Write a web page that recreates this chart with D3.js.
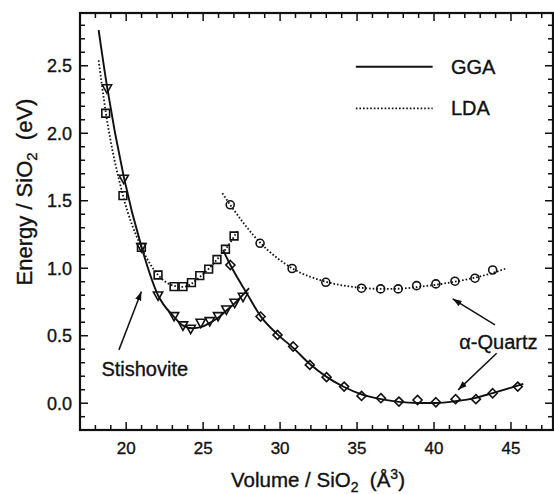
<!DOCTYPE html>
<html><head><meta charset="utf-8">
<script src="https://cdn.jsdelivr.net/npm/d3@7/dist/d3.min.js"></script>
<style>
html,body{margin:0;padding:0;background:#fff;}
svg{display:block;font-family:"Liberation Sans",Arial,Helvetica,sans-serif;}
</style></head>
<body>
<svg id="chart" width="554" height="494"></svg>
<script>
// ---- data (volume Å^3 / SiO2, energy eV / SiO2) ----
const stishGGAPts = [[18.75,2.33],[19.84,1.66],[20.99,1.153],[22.07,0.795],[23.11,0.642],[23.69,0.573],[24.19,0.548],[24.84,0.593],[25.43,0.605],[25.97,0.642],[26.51,0.691],[27.05,0.741],[27.59,0.785]];
const stishLDAPts = [[18.67,2.148],[19.79,1.538],[20.99,1.155],[22.07,0.95],[23.11,0.864],[23.69,0.864],[24.24,0.893],[24.78,0.945],[25.36,0.993],[25.90,1.065],[26.45,1.141],[27.01,1.239]];
const quartzLDAPts = [[26.76,1.47],[28.70,1.185],[30.78,0.998],[32.97,0.896],[35.29,0.852],[36.53,0.847],[37.67,0.847],[38.87,0.871],[40.12,0.884],[41.36,0.904],[42.66,0.926],[43.81,0.987]];
const quartzGGAPts = [[26.77,1.024],[28.73,0.642],[29.83,0.506],[30.85,0.42],[31.93,0.284],[33.02,0.193],[34.16,0.123],[35.29,0.054],[36.55,0.037],[37.72,0.012],[38.93,0.024],[40.12,0.007],[41.40,0.03],[42.72,0.03],[43.81,0.074],[45.44,0.123]];

// fitted curves
const stishGGAFit = [[18.21,2.765],[18.75,2.35],[19.84,1.68],[20.99,1.16],[22.07,0.80],[23.11,0.64],[23.7,0.575],[24.3,0.555],[24.9,0.565],[25.5,0.60],[26.0,0.635],[26.5,0.685],[27.05,0.74],[27.6,0.805],[27.98,0.852]];
const stishLDAFit = [[18.21,2.54],[18.67,2.16],[19.79,1.54],[20.99,1.155],[22.07,0.95],[23.11,0.87],[23.69,0.862],[24.24,0.885],[24.78,0.935],[25.36,0.995],[25.9,1.065],[26.45,1.14],[27.01,1.235],[27.27,1.284]];
const quartzGGAFit = [[26.29,1.136],[26.77,1.024],[27.86,0.81],[28.73,0.645],[29.83,0.51],[30.85,0.41],[31.93,0.29],[33.02,0.195],[34.16,0.12],[35.29,0.065],[36.55,0.03],[37.72,0.01],[38.93,0.002],[40.12,0.002],[41.4,0.015],[42.72,0.04],[43.81,0.075],[45.44,0.13],[45.8,0.143]];
const quartzLDAFit = [[26.25,1.556],[26.76,1.47],[28.7,1.19],[30.78,1.0],[32.97,0.9],[35.29,0.855],[36.53,0.847],[37.67,0.848],[38.87,0.86],[40.12,0.878],[41.36,0.9],[42.66,0.93],[43.81,0.965],[44.72,1.0]];

const xMajorTicks = [20,25,30,35,40,45];
const yMajorTicks = [0.0,0.5,1.0,1.5,2.0,2.5];
const legendLabels = ["GGA","LDA"];
const annotLabels = ["Stishovite","α-Quartz"];

// ---- layout ----
const svg = d3.select("#chart");
const L=80, R=553, T=13, B=430;
const x = d3.scaleLinear().domain([17,47.73]).range([L,R]);
const y = d3.scaleLinear().domain([-0.1985,2.891]).range([B,T]);
const ink = "#111";

// minor ticks
const xMinor = d3.range(18,48,1).filter(v=>v%5!==0);
const yMinor = d3.range(-1,29,1).map(v=>v/10).filter(v=>Math.round(v*10)%5!==0);

const g = svg.append("g").attr("stroke",ink).attr("stroke-width",1.5);
function tickLines(vals,len){
  vals.forEach(v=>{
    g.append("line").attr("x1",x(v)).attr("x2",x(v)).attr("y1",B).attr("y2",B-len);
    g.append("line").attr("x1",x(v)).attr("x2",x(v)).attr("y1",T).attr("y2",T+len);
  });
}
function tickLinesY(vals,len){
  vals.forEach(v=>{
    g.append("line").attr("y1",y(v)).attr("y2",y(v)).attr("x1",L).attr("x2",L+len);
    g.append("line").attr("y1",y(v)).attr("y2",y(v)).attr("x1",R).attr("x2",R-len);
  });
}
tickLines(xMinor,5); tickLines(xMajorTicks,8);
tickLinesY(yMinor,5); tickLinesY(yMajorTicks,8);

svg.append("rect").attr("x",L).attr("y",T).attr("width",R-L).attr("height",B-T)
  .attr("fill","none").attr("stroke",ink).attr("stroke-width",2.2);

const txtStroke = 0.35;
// tick labels
svg.append("g").selectAll("text").data(xMajorTicks).join("text")
  .attr("x",d=>x(d)).attr("y",453.5).attr("text-anchor","middle")
  .attr("font-size",17).attr("fill",ink).attr("stroke",ink).attr("stroke-width",txtStroke).text(d=>d);
svg.append("g").selectAll("text").data(yMajorTicks).join("text")
  .attr("x",72).attr("y",d=>y(d)+6.5).attr("text-anchor","end")
  .attr("font-size",18).attr("fill",ink).attr("stroke",ink).attr("stroke-width",txtStroke).text(d=>d3.format(".1f")(d));

// axis titles
const xt = svg.append("text").attr("x",231).attr("y",487).attr("font-size",20.5).attr("fill",ink).attr("stroke",ink).attr("stroke-width",txtStroke);
xt.append("tspan").text("Volume / SiO");
xt.append("tspan").attr("font-size",14).attr("dy",5).text("2");
xt.append("tspan").attr("dy",-5).text("\u00a0\u00a0(Å");
xt.append("tspan").attr("font-size",14).attr("dy",-8).text("3");
xt.append("tspan").attr("dy",8).text(")");

const yt = svg.append("text").attr("transform","translate(32,192) rotate(-90)")
  .attr("text-anchor","middle").attr("font-size",22).attr("fill",ink).attr("stroke",ink).attr("stroke-width",txtStroke);
yt.append("tspan").text("Energy / SiO");
yt.append("tspan").attr("font-size",15).attr("dy",5).text("2");
yt.append("tspan").attr("dy",-5).text("\u00a0\u00a0(eV)");

// curves
const line = d3.line().x(d=>x(d[0])).y(d=>y(d[1])).curve(d3.curveMonotoneX);
const solid = {stroke:ink,"stroke-width":1.9,fill:"none"};
const dotted = {stroke:ink,"stroke-width":1.8,fill:"none","stroke-dasharray":"1.6,2"};
function drawPath(data,st){
  const p = svg.append("path").attr("d",line(data));
  Object.entries(st).forEach(([k,v])=>p.attr(k,v));
}
drawPath(stishGGAFit,solid);
drawPath(quartzGGAFit,solid);
drawPath(stishLDAFit,dotted);
drawPath(quartzLDAFit,dotted);

// markers
function markers(data,type,size){
  svg.append("g").selectAll("path").data(data).join("path")
    .attr("transform",d=>`translate(${x(d[0])},${y(d[1])})`)
    .attr("d",d3.symbol().type(type).size(size)())
    .attr("fill","none").attr("stroke",ink).attr("stroke-width",1.6);
}
const triDown = {draw(ctx,size){const s=Math.sqrt(size/0.65)/2; ctx.moveTo(-s,-s*0.85); ctx.lineTo(s,-s*0.85); ctx.lineTo(0,s*0.95); ctx.closePath();}};
const diamond = {draw(ctx,size){const s=Math.sqrt(size)/2*1.15; ctx.moveTo(0,-s); ctx.lineTo(s,0); ctx.lineTo(0,s); ctx.lineTo(-s,0); ctx.closePath();}};
markers(stishLDAPts,d3.symbolSquare,60);
markers(stishGGAPts,triDown,56);
markers(quartzLDAPts,d3.symbolCircle,50);
markers(quartzGGAPts,diamond,62);

// legend
const legendPos = [[34.92,39.91,2.493],[34.92,39.91,2.185]];
legendPos.forEach((p,i)=>{
  const l = svg.append("line").attr("x1",x(p[0])).attr("x2",x(p[1])).attr("y1",y(p[2])).attr("y2",y(p[2]));
  Object.entries(i===0?solid:dotted).forEach(([k,v])=>l.attr(k,v));
  svg.append("text").attr("x",x(41.1)).attr("y",y(p[2])+7).attr("font-size",20).attr("fill",ink)
    .attr("stroke",ink).attr("stroke-width",txtStroke).text(legendLabels[i]);
});

// annotations
svg.append("defs").append("marker").attr("id","ah").attr("viewBox","0 0 10 10")
  .attr("refX",10).attr("refY",5).attr("markerWidth",9).attr("markerHeight",9)
  .attr("markerUnits","userSpaceOnUse").attr("orient","auto")
  .append("path").attr("d","M0,1.5 L10,5 L0,8.5 Z").attr("fill",ink);
const arrows = [[19.53,0.395,20.99,0.827],[43.96,0.58,41.21,0.773],[44.07,0.37,41.57,0.099]];
arrows.forEach(a=>{
  svg.append("line").attr("x1",x(a[0])).attr("y1",y(a[1])).attr("x2",x(a[2])).attr("y2",y(a[3]))
    .attr("stroke",ink).attr("stroke-width",1.5).attr("marker-end","url(#ah)");
});
const annotPos = [[18.39,0.202],[41.64,0.402]];
annotPos.forEach((p,i)=>{
  svg.append("text").attr("x",x(p[0])).attr("y",y(p[1])).attr("font-size",20).attr("fill",ink)
    .attr("stroke",ink).attr("stroke-width",txtStroke).text(annotLabels[i]);
});
</script>
</body></html>
